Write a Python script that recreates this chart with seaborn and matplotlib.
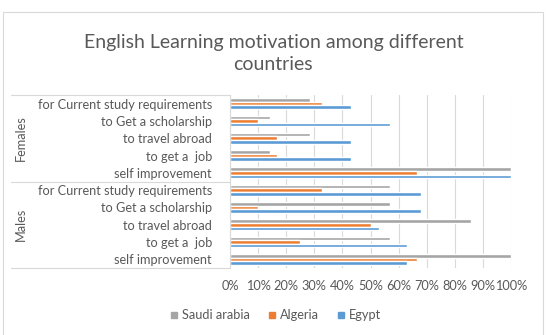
import matplotlib
matplotlib.use("Agg")
import matplotlib.pyplot as plt
import seaborn as sns
import pandas as pd
from matplotlib.lines import Line2D

# ---- data (top to bottom order) ----
groups = ["Females", "Males"]
categories_f = ["for Current study requirements", "to Get a scholarship", "to travel abroad",
                "to get a  job", "self improvement"]
categories_m = ["for Current study requirements", "to Get a scholarship", "to travel abroad",
                "to get a  job", "self improvement"]
countries = ["Saudi arabia", "Algeria", "Egypt"]

saudi_f = [0.286, 0.143, 0.286, 0.143, 1.00]
algeria_f = [0.327, 0.10, 0.167, 0.167, 0.667]
egypt_f = [0.429, 0.571, 0.429, 0.429, 1.00]

saudi_m = [0.571, 0.571, 0.857, 0.571, 1.00]
algeria_m = [0.327, 0.10, 0.50, 0.25, 0.667]
egypt_m = [0.68, 0.68, 0.53, 0.63, 0.63]

colors = {"Saudi arabia": "#A5A5A5", "Algeria": "#ED7D31", "Egypt": "#5B9BD5"}

rows = []
keys = []
labels = []
for g, cats, vals in [("Females", categories_f, (saudi_f, algeria_f, egypt_f)),
                      ("Males", categories_m, (saudi_m, algeria_m, egypt_m))]:
    for i, c in enumerate(cats):
        k = f"{g}|{c}"
        keys.append(k)
        labels.append(c)
        for country, v in zip(countries, vals):
            rows.append({"key": k, "country": country, "value": v[i]})
df = pd.DataFrame(rows)

sns.set_style("white")
plt.rcParams["font.family"] = ["Lato", "DejaVu Sans"]
txt = "#595959"
fs = 9.2

fig = plt.figure(figsize=(5.5, 3.35), dpi=100)
ax = fig.add_axes([230/550, 1-268/335, 281/550, 173/335])

sns.barplot(data=df, y="key", x="value", hue="country", order=keys, hue_order=countries,
            palette=colors, orient="h", width=0.62, ax=ax, legend=False, saturation=1)

ax.set_xlim(0, 1)
ax.set_xticks([i/10 for i in range(11)])
ax.set_xticklabels([f"{i*10}%" for i in range(11)], color=txt, fontsize=fs)
ax.set_yticks(range(len(keys)))
ax.set_yticklabels(labels, color=txt, fontsize=fs)
ax.set_xlabel("")
ax.set_ylabel("")
ax.tick_params(axis="both", length=0)
ax.tick_params(axis="y", pad=13)
ax.tick_params(axis="x", pad=9)
ax.grid(axis="x", color="#D9D9D9", linewidth=0.8)
ax.set_axisbelow(True)
for s in ["top", "right", "bottom"]:
    ax.spines[s].set_visible(False)
ax.spines["left"].set_color("#D9D9D9")
ax.spines["left"].set_linewidth(0.8)

# group separator lines and labels
n = len(keys)
for yv in [-0.5, 4.5, n - 0.5]:
    ax.add_line(Line2D([-0.78, 0], [yv, yv], transform=ax.get_yaxis_transform(),
                       color="#D9D9D9", linewidth=0.8, clip_on=False))
ax.text(-0.745, 2, "Females", rotation=90, ha="center", va="center", color=txt,
        fontsize=fs, transform=ax.get_yaxis_transform())
ax.text(-0.745, 7, "Males", rotation=90, ha="center", va="center", color=txt,
        fontsize=fs, transform=ax.get_yaxis_transform())

fig.text(0.497, 1-53.5/335, "English Learning motivation among different\ncountries",
         ha="center", va="center", fontsize=14, color=txt, linespacing=1.35)

handles = [Line2D([], [], marker="s", linestyle="", markersize=5,
                  markerfacecolor=colors[c], markeredgecolor=colors[c]) for c in countries]
fig.legend(handles, countries, loc="center", bbox_to_anchor=(0.5, 1-315/335), ncol=3,
           frameon=False, fontsize=fs, labelcolor=txt, handletextpad=0.25, columnspacing=1.3,
           handlelength=0.8)

# outer border
fig.add_artist(plt.Rectangle((3/550, -0.01), 540/550, 1-12/335+0.01, transform=fig.transFigure,
                             fill=False, edgecolor="#D9D9D9", linewidth=0.8))

fig.savefig("out.png", dpi=100)
